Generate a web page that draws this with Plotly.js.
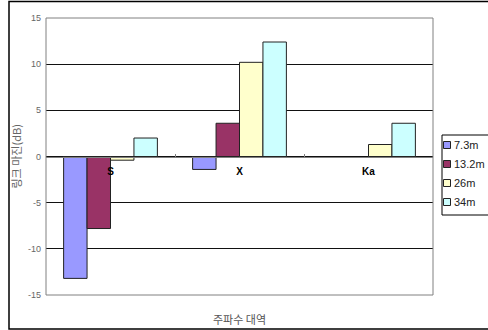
<!DOCTYPE html>
<html>
<head>
<meta charset="utf-8">
<script src="https://cdn.plot.ly/plotly-3.0.1.min.js"></script>
<style>html,body{margin:0;padding:0;background:#fff;}#chart{width:488px;height:330px;}</style>
</head>
<body>
<div id="chart"></div>
<script>
const categories = ["S", "X", "Ka"];
const seriesNames = ["7.3m", "13.2m", "26m", "34m"];
const v73 = [-13.2, -1.4, null];
const v132 = [-7.8, 3.6, null];
const v26 = [-0.4, 10.2, 1.3];
const v34 = [2.0, 12.4, 3.6];
const yTicks = [-15, -10, -5, 0, 5, 10, 15];
const yTitle = "링크 마진(dB)";
const xTitle = "주파수 대역";

const colors = ["#9999FF", "#993366", "#FFFFCC", "#CCFFFF"];
const values = [v73, v132, v26, v34];

const L = 46, R = 433, T = 18, B = 295, W = 488, H = 330;
const pw = R - L, ph = B - T;
const px = x => (x - L) / pw;
const py = y => (B - y) / ph;

const traces = values.map((v, i) => ({
  type: "bar",
  name: seriesNames[i],
  x: categories,
  y: v,
  marker: {color: colors[i], line: {color: "#222", width: 1}},
  hoverinfo: "none"
}));

const shapes = [
  {type: "rect", xref: "paper", yref: "paper", x0: px(9), x1: px(500), y0: py(329), y1: py(1.5),
   line: {color: "#000", width: 1.5}, fillcolor: "rgba(0,0,0,0)", layer: "below"},
  {type: "rect", xref: "paper", yref: "paper", x0: 0, x1: 1, y0: 0, y1: 1,
   line: {color: "#808080", width: 1}, fillcolor: "rgba(0,0,0,0)", layer: "above"},
  {type: "rect", xref: "paper", yref: "paper", x0: px(442), x1: px(500), y0: py(215), y1: py(135),
   line: {color: "#000", width: 1}, fillcolor: "#fff", layer: "above"}
];
const annotations = [
  {xref: "paper", yref: "paper", x: 0.5, y: py(319), text: xTitle, showarrow: false,
   xanchor: "center", yanchor: "middle", font: {family: "Noto Sans CJK KR", size: 11, color: "#555"}},
  {xref: "paper", yref: "paper", x: px(15), y: 0.5, text: yTitle, showarrow: false, textangle: -90,
   xanchor: "center", yanchor: "middle", font: {family: "Noto Sans CJK KR", size: 11, color: "#666"}}
];
const rowY = [145, 164, 183, 202];
seriesNames.forEach((n, i) => {
  shapes.push({type: "rect", xref: "paper", yref: "paper", x0: px(443.5), x1: px(450.5),
    y0: py(rowY[i] + 3.5), y1: py(rowY[i] - 3.5), line: {color: "#222", width: 1},
    fillcolor: colors[i], layer: "above"});
  annotations.push({xref: "paper", yref: "paper", x: px(452), y: py(rowY[i]), text: n,
    showarrow: false, xanchor: "left", yanchor: "middle",
    font: {family: "Liberation Sans, Arial", size: 11, color: "#222"}});
});

const layout = {
  width: W, height: H,
  margin: {l: L, r: W - R, t: T, b: H - B, pad: 0},
  paper_bgcolor: "#fff", plot_bgcolor: "#fff",
  showlegend: false,
  barmode: "group",
  bargap: 0.273,
  bargroupgap: 0,
  xaxis: {
    type: "category",
    anchor: "free", position: 0.5,
    showline: true, linecolor: "#808080", linewidth: 1,
    ticks: "inside", tickson: "boundaries", ticklen: 3, tickcolor: "#808080",
    ticklabelstandoff: 5,
    showgrid: false, zeroline: false,
    tickfont: {family: "Liberation Sans, Arial", size: 10, color: "#000", weight: "bold"},
    fixedrange: true
  },
  yaxis: {
    range: [-15, 15],
    tickvals: yTicks,
    ticktext: yTicks.map(String),
    showgrid: true, gridcolor: "#111", gridwidth: 1,
    zeroline: false, showline: false, ticks: "",
    ticklabelstandoff: 4,
    tickfont: {family: "Liberation Sans, Arial", size: 9, color: "#666"},
    automargin: false,
    fixedrange: true
  },
  shapes: shapes,
  annotations: annotations,
  font: {family: "Liberation Sans, Arial"}
};

Plotly.newPlot("chart", traces, layout, {displayModeBar: false, staticPlot: true});
</script>
</body>
</html>
